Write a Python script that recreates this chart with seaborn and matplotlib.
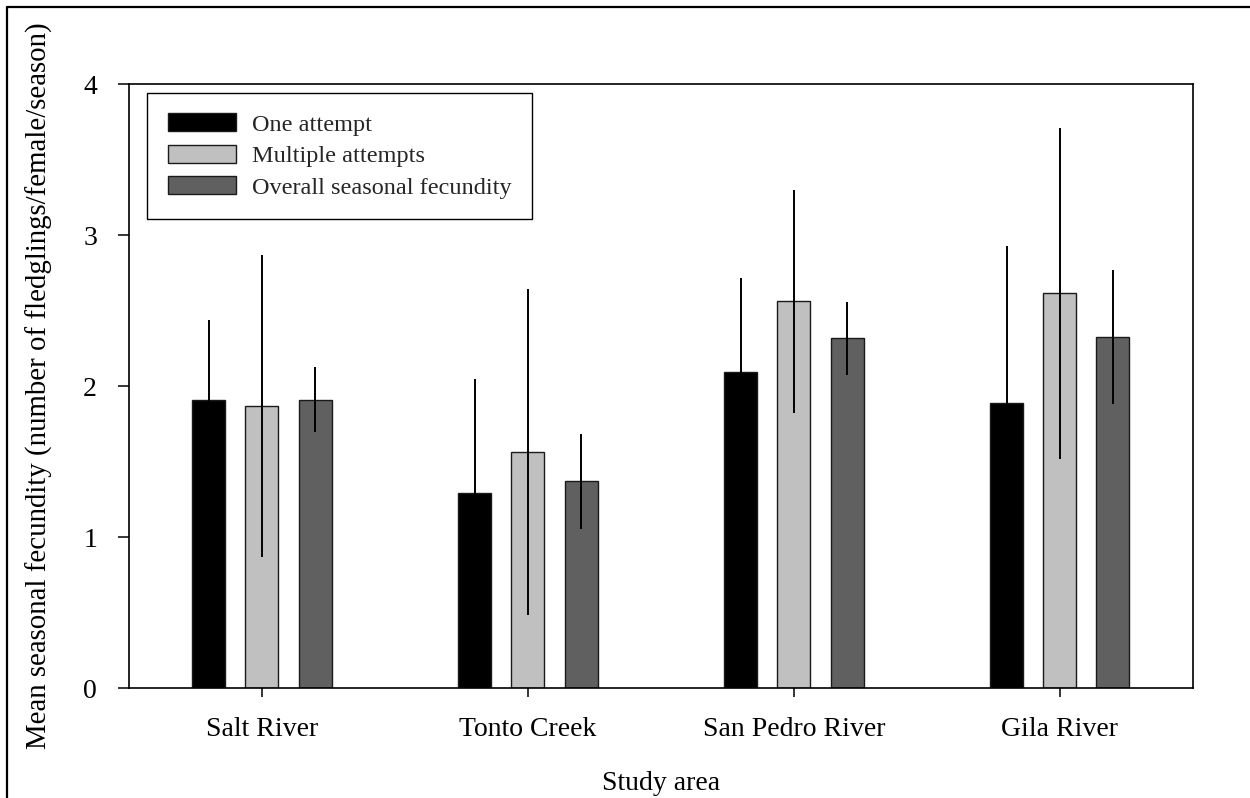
import matplotlib
matplotlib.use("Agg")
import matplotlib.pyplot as plt
from matplotlib.lines import Line2D
import numpy as np
import pandas as pd
import seaborn as sns

# Study areas and breeding-attempt groups
areas = ["Salt River", "Tonto Creek", "San Pedro River", "Gila River"]
groups = ["One attempt", "Multiple attempts", "Overall seasonal fecundity"]

# Mean seasonal fecundity per group (one value per study area)
one_attempt = [1.91, 1.29, 2.09, 1.885]
multiple_attempts = [1.87, 1.565, 2.56, 2.615]
overall_fecundity = [1.91, 1.37, 2.315, 2.325]

# Error bar half-widths
one_attempt_err = [0.53, 0.755, 0.625, 1.045]
multiple_attempts_err = [1.0, 1.08, 0.74, 1.095]
overall_fecundity_err = [0.215, 0.315, 0.243, 0.443]

colors = ["#000000", "#c0c0c0", "#606060"]

means = [one_attempt, multiple_attempts, overall_fecundity]
errors = [one_attempt_err, multiple_attempts_err, overall_fecundity_err]

df = pd.DataFrame({
    "area": np.repeat([areas], len(groups), axis=0).ravel(),
    "group": np.repeat(groups, len(areas)),
    "value": np.ravel(means),
})

sns.set_style("ticks")
plt.rcParams["font.family"] = ["Liberation Serif", "DejaVu Serif"]

fig = plt.figure(figsize=(12.5, 7.98), dpi=100)
ax = fig.add_axes([0.1032, 0.1378, 0.851, 0.7569])

sns.barplot(data=df, x="area", y="value", hue="group", order=areas,
            hue_order=groups, palette=colors, width=0.6, gap=0.38,
            errorbar=None, edgecolor="#1a1a1a", linewidth=1.0,
            saturation=1, ax=ax)

# Symmetric error bars over each bar
for container, err in zip(ax.containers, errors):
    xs = [b.get_x() + b.get_width() / 2 for b in container]
    ys = [b.get_height() for b in container]
    ax.errorbar(xs, ys, yerr=err, fmt="none", ecolor="black",
                elinewidth=1.4, capsize=0, zorder=5)

ax.set_xlim(-0.5, 3.5)
ax.set_ylim(0, 4)
ax.set_yticks([0, 1, 2, 3, 4])
ax.set_yticklabels(["0", "1", "2", "3", "4"])

for s in ax.spines.values():
    s.set_visible(True)
    s.set_linewidth(1.2)
    s.set_color("black")

ax.tick_params(axis="y", direction="out", length=8, width=1.1,
               labelsize=20, pad=15, colors="black")
ax.tick_params(axis="x", direction="out", length=6.5, width=1.1,
               labelsize=20, pad=14, colors="black")

ax.set_xlabel("Study area", fontsize=20, labelpad=21, color="black")
ax.set_ylabel("Mean seasonal fecundity (number of fledglings/female/season)",
              fontsize=20.8, labelpad=22, color="black")

leg = ax.legend(loc="upper left", bbox_to_anchor=(0.0172, 0.9856),
                frameon=True, fancybox=False, shadow=False,
                fontsize=17.5, handlelength=2.8, handleheight=0.75,
                handletextpad=0.65, labelspacing=0.37, borderpad=0.85,
                borderaxespad=0)
leg.get_frame().set_edgecolor("black")
leg.get_frame().set_linewidth(1.0)
leg.get_frame().set_alpha(1)

# Page frame lines along the top and left edges
fig.add_artist(Line2D([7.3 / 1250, 1.0], [1 - 6.7 / 798, 1 - 6.7 / 798],
                      transform=fig.transFigure, color="black", linewidth=1.6))
fig.add_artist(Line2D([7.3 / 1250, 7.3 / 1250], [0.0, 1 - 6.7 / 798],
                      transform=fig.transFigure, color="black", linewidth=1.6))

fig.savefig("out.png", dpi=100, facecolor="white")
